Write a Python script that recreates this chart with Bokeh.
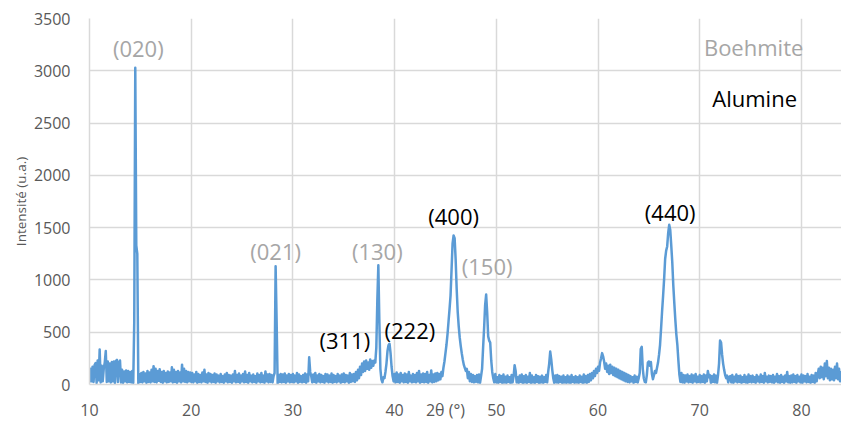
import numpy as np
from bokeh.plotting import figure
from bokeh.models import Range1d, FixedTicker, ColumnDataSource
from bokeh.core.properties import value
from bokeh.embed import file_html
from bokeh.resources import INLINE

# ---- scan grid (2-theta, degrees) ----
scan_start = 10.0
scan_step = 0.1

# ---- intensities, one row per degree ----
i_10_20 = [
    20, 150, 30, 170, 25, 185, 205, 15, 230, 40,
    335, 20, 180, 30, 150, 210, 320, 25, 220, 30,
    200, 20, 215, 30, 220, 15, 225, 235, 25, 210,
    230, 20, 140, 15, 125, 30, 135, 20, 130, 25,
    120, 20, 130, 15, 600, 3030, 1330, 1250, 10, 100,
    25, 110, 20, 120, 30, 105, 15, 130, 25, 115,
    20, 140, 30, 175, 25, 150, 20, 130, 35, 145,
    25, 120, 15, 130, 30, 110, 20, 125, 25, 115,
    30, 165, 20, 140, 25, 120, 15, 130, 30, 115,
    20, 190, 30, 150, 25, 130, 20, 120, 30, 115,
]
i_20_30 = [
    25, 110, 20, 95, 30, 120, 15, 100, 25, 90,
    20, 115, 30, 140, 25, 95, 15, 110, 30, 100,
    20, 90, 25, 105, 15, 95, 30, 85, 20, 100,
    25, 80, 15, 95, 30, 110, 20, 90, 25, 85,
    15, 95, 30, 130, 20, 90, 25, 105, 15, 85,
    30, 100, 20, 125, 25, 90, 15, 110, 30, 85,
    20, 95, 25, 80, 15, 105, 30, 90, 20, 110,
    25, 85, 15, 125, 30, 95, 20, 100, 25, 90,
    20, 80, 110, 1130, 600, 10, 90, 25, 100, 20,
    95, 25, 105, 15, 85, 30, 100, 20, 90, 25,
]
i_30_40 = [
    100, 20, 85, 30, 110, 15, 95, 25, 80, 20,
    90, 25, 105, 15, 95, 30, 260, 120, 80, 20,
    95, 25, 110, 15, 85, 30, 100, 20, 90, 25,
    80, 15, 100, 30, 95, 20, 85, 25, 105, 15,
    90, 25, 80, 20, 100, 30, 85, 15, 95, 25,
    105, 20, 90, 30, 85, 15, 110, 25, 95, 30,
    100, 25, 120, 40, 140, 60, 170, 90, 200, 120,
    220, 130, 230, 150, 210, 140, 240, 160, 225, 180,
    230, 210, 350, 800, 1140, 600, 150, 50, 20, 70,
    60, 120, 200, 320, 375, 390, 300, 170, 80, 30,
]
i_40_50 = [
    100, 20, 115, 25, 95, 15, 110, 30, 90, 20,
    105, 25, 95, 15, 120, 30, 85, 20, 100, 25,
    90, 20, 110, 30, 130, 15, 95, 25, 105, 20,
    100, 25, 120, 15, 90, 30, 135, 20, 95, 25,
    105, 30, 110, 40, 100, 50, 120, 80, 160, 220,
    300, 380, 480, 600, 720, 850, 1100, 1350, 1425, 1400,
    1200, 920, 700, 560, 450, 370, 300, 240, 190, 160,
    130, 150, 60, 120, 30, 100, 25, 90, 20, 80,
    25, 90, 20, 95, 15, 80, 150, 350, 540, 760,
    860, 690, 460, 420, 400, 230, 120, 60, 20, 100,
]
i_50_60 = [
    20, 70, 15, 90, 25, 80, 10, 95, 20, 75,
    15, 85, 25, 70, 10, 90, 20, 80, 185, 130,
    20, 70, 15, 85, 25, 95, 10, 80, 20, 90,
    15, 75, 25, 110, 10, 85, 20, 70, 15, 90,
    25, 80, 10, 75, 20, 85, 15, 70, 25, 90,
    20, 120, 200, 315, 240, 140, 60, 15, 85, 20,
    90, 15, 80, 25, 75, 10, 85, 20, 70, 15,
    85, 20, 75, 10, 90, 25, 70, 15, 80, 20,
    70, 15, 85, 25, 75, 10, 95, 20, 80, 15,
    90, 25, 100, 40, 110, 60, 130, 80, 150, 110,
]
i_60_70 = [
    170, 130, 210, 250, 300, 270, 220, 150, 200, 120,
    180, 100, 190, 110, 170, 90, 160, 80, 150, 70,
    140, 60, 130, 50, 120, 40, 110, 30, 100, 25,
    90, 20, 80, 30, 70, 15, 85, 25, 75, 20,
    60, 110, 340, 360, 150, 60, 25, 20, 90, 210,
    220, 180, 215, 100, 50, 90, 130, 110, 160, 210,
    285, 380, 537, 700, 850, 1010, 1200, 1280, 1320, 1450,
    1527, 1480, 1330, 1170, 950, 780, 620, 480, 380, 230,
    95, 25, 110, 20, 90, 15, 85, 30, 95, 20,
    80, 25, 95, 15, 85, 30, 100, 20, 75, 25,
]
i_70_80 = [
    90, 20, 80, 25, 95, 15, 85, 30, 130, 70,
    90, 15, 80, 25, 95, 20, 85, 15, 90, 200,
    420, 400, 285, 200, 140, 90, 60, 85, 20, 70,
    80, 20, 90, 15, 75, 30, 95, 20, 80, 25,
    85, 15, 70, 25, 90, 20, 75, 15, 95, 25,
    80, 20, 85, 25, 70, 15, 90, 30, 75, 20,
    95, 25, 80, 15, 110, 30, 75, 20, 85, 25,
    80, 20, 90, 15, 75, 30, 100, 20, 80, 15,
    90, 25, 75, 15, 85, 30, 120, 20, 80, 15,
    85, 20, 95, 25, 80, 15, 90, 30, 75, 20,
]
i_80_84 = [
    95, 15, 85, 30, 80, 20, 100, 25, 75, 15,
    90, 25, 85, 15, 110, 30, 95, 150, 60, 170,
    70, 160, 50, 200, 80, 225, 60, 160, 40, 150,
    50, 140, 40, 170, 60, 200, 50, 150, 30, 130,
]

intensity = i_10_20 + i_20_30 + i_30_40 + i_40_50 + i_50_60 + i_60_70 + i_70_80 + i_80_84
two_theta = [round(scan_start + scan_step * k, 1) for k in range(len(intensity))]

# ---- peak labels ----
hkl_text = ["(020)", "(021)", "(130)", "(150)", "(311)", "(222)", "(400)", "(440)"]
hkl_x = [14.8, 28.3, 38.3, 49.1, 35.1, 41.5, 45.8, 67.1]
hkl_y = [3220, 1277, 1277, 1135, 424, 518, 1608, 1645]
hkl_phase = ["Boehmite", "Boehmite", "Boehmite", "Boehmite", "Alumine", "Alumine", "Alumine", "Alumine"]

phase_names = ["Boehmite", "Alumine"]
phase_x = [75.3, 75.4]
phase_y = [3229, 2736]
phase_colors = {"Boehmite": "#A6A6A6", "Alumine": "#000000"}

x_ticks = [10, 20, 30, 40, 50, 60, 70, 80]
y_ticks = [0, 500, 1000, 1500, 2000, 2500, 3000, 3500]
x_title = "2θ (°)"
x_title_pos = 45.0
y_title = "Intensité (u.a.)"

FONT = "Open Sans"
GRID = "#D9D9D9"
TXT = "#595959"

p = figure(width=841, height=423, output_backend="svg", toolbar_location=None,
           x_range=Range1d(10, 83.94), y_range=Range1d(0, 3500),
           min_border_left=89, min_border_right=0, min_border_top=18, min_border_bottom=36)
p.outline_line_color = None
p.background_fill_color = "white"
p.border_fill_color = "white"

# axis ticks: the x-axis also carries the "2θ (°)" caption at its position
p.xaxis.ticker = FixedTicker(ticks=x_ticks + [x_title_pos])
p.xaxis.major_label_overrides = {x_title_pos: x_title}
p.yaxis.ticker = FixedTicker(ticks=y_ticks)
p.xgrid.ticker = FixedTicker(ticks=x_ticks)
p.ygrid.ticker = FixedTicker(ticks=y_ticks)
for g in (p.xgrid, p.ygrid):
    g.grid_line_color = GRID
    g.grid_line_width = 1.5

for ax in (p.xaxis, p.yaxis):
    ax.axis_line_color = GRID
    ax.axis_line_width = 1.5
    ax.major_tick_line_color = None
    ax.minor_tick_line_color = None
    ax.major_tick_out = 0
    ax.major_tick_in = 0
    ax.minor_tick_out = 0
    ax.minor_tick_in = 0
    ax.major_label_text_font = FONT
    ax.major_label_text_font_size = "16px"
    ax.major_label_text_color = TXT

p.xaxis.major_label_standoff = 14
p.yaxis.major_label_standoff = 19
p.yaxis.axis_label = y_title
p.yaxis.axis_label_text_font = FONT
p.yaxis.axis_label_text_font_size = "13.5px"
p.yaxis.axis_label_text_font_style = "normal"
p.yaxis.axis_label_text_color = TXT
p.yaxis.axis_label_standoff = 1

src = ColumnDataSource(dict(x=two_theta, y=intensity))
p.line("x", "y", source=src, line_color="#5B9BD5", line_width=2.5, line_join="round")

lab_src = ColumnDataSource(dict(x=hkl_x, y=hkl_y, t=hkl_text,
                                c=[phase_colors[ph] for ph in hkl_phase]))
p.text("x", "y", text="t", source=lab_src, text_color="c", text_font=value(FONT),
       text_font_size="22px", text_align="center", text_baseline="middle")

leg_src = ColumnDataSource(dict(x=phase_x, y=phase_y, t=phase_names,
                                c=[phase_colors[ph] for ph in phase_names]))
p.text("x", "y", text="t", source=leg_src, text_color="c", text_font=value(FONT),
       text_font_size="22px", text_align="center", text_baseline="middle")

open("out.html", "w").write(file_html(p, INLINE))
